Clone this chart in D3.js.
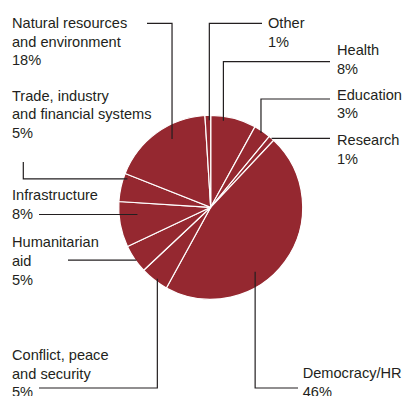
<!DOCTYPE html>
<html lang="en">
<head>
<meta charset="utf-8">
<title>Pie</title>
<script src="https://cdn.jsdelivr.net/npm/d3@7"></script>
<style>
  body { margin: 0; background: #fff; }
  text { font-family: "Liberation Sans", Arial, sans-serif; font-size: 14.6px; fill: #231f20; }
  .leader { fill: none; stroke: #231f20; stroke-width: 1.2px; }
  .slice { fill: #952830; stroke: #fff; stroke-width: 1.2px; }
</style>
</head>
<body>
<div id="chart"></div>
<script>
// data, clockwise from 12 o'clock
var categories = ["Health", "Education", "Research", "Democracy/HR", "Conflict, peace and security",
  "Humanitarian aid", "Infrastructure", "Trade, industry and financial systems",
  "Natural resources and environment", "Other"];
var shares = [8, 3, 1, 46, 5, 5, 8, 5, 18, 1];
var labelLines = [
  ["Health", "8%"],
  ["Education", "3%"],
  ["Research", "1%"],
  ["Democracy/HR", "46%"],
  ["Conflict, peace", "and security", "5%"],
  ["Humanitarian", "aid", "5%"],
  ["Infrastructure", "8%"],
  ["Trade, industry", "and financial systems", "5%"],
  ["Natural resources", "and environment", "18%"],
  ["Other", "1%"]
];

var width = 409, height = 396;
var cx = 210.7, cy = 207.3, radius = 92;
var lineH = 18.7;

// label layout: text anchor + leader route
// t = position along slice, rr = radius fraction of leader start
var layout = [
  { x: 337, y: 55,  t: 0.29, rr: 0.95, route: [["v", 61.7], ["h", 330]] },
  { x: 337, y: 99.5, t: 0.49, rr: 0.975, route: [["v", 99], ["h", 330]] },
  { x: 337, y: 145, t: 0.5,  rr: 1.0,  route: [["h", 330]] },
  { x: 302.7, y: 378.3, t: 0.617, rr: 0.85, route: [["v", 388], ["h", 298]] },
  { x: 12, y: 360, t: 0.44, rr: 0.97, route: [["v", 388], ["h", 39]] },
  { x: 12, y: 247.3, t: 0.43, rr: 0.99, route: [["h", 68]] },
  { x: 12, y: 200, t: 0.68, rr: 0.80, route: [["h", 39]] },
  { x: 12, y: 100.7, t: 0.85, rr: 0.957, route: [["h", 23.3], ["v", 162]] },
  { x: 12, y: 28, t: 0.60, rr: 0.853, route: [["v", 23.3], ["h", 147]] },
  { x: 268, y: 28, t: 0.75, rr: 0.946, route: [["v", 23.3], ["h", 262]] }
];

var svg = d3.select("#chart").append("svg")
  .attr("width", width)
  .attr("height", height);

var pie = d3.pie().sort(null).startAngle(0).endAngle(2 * Math.PI);
var arcs = pie(shares);
var arc = d3.arc().innerRadius(0).outerRadius(radius);

var g = svg.append("g").attr("transform", "translate(" + cx + "," + cy + ")");
g.selectAll("path.slice")
  .data(arcs)
  .enter().append("path")
  .attr("class", "slice")
  .attr("d", arc);

// leaders
var line = d3.line();
arcs.forEach(function(d, i) {
  var L = layout[i];
  var a = d.startAngle + (d.endAngle - d.startAngle) * L.t;
  var r = radius * L.rr;
  var p = [cx + r * Math.sin(a), cy - r * Math.cos(a)];
  var pts = [p.slice()];
  L.route.forEach(function(s) {
    if (s[0] === "v") p = [p[0], s[1]];
    else p = [s[1], p[1]];
    pts.push(p.slice());
  });
  svg.append("path").attr("class", "leader").attr("d", line(pts));
});

// labels
svg.selectAll("text.lbl")
  .data(labelLines)
  .enter().append("text")
  .attr("class", "lbl")
  .each(function(lines, i) {
    var t = d3.select(this);
    lines.forEach(function(s, j) {
      t.append("tspan")
        .attr("x", layout[i].x)
        .attr("y", layout[i].y + j * lineH)
        .text(s);
    });
  });
</script>
</body>
</html>
